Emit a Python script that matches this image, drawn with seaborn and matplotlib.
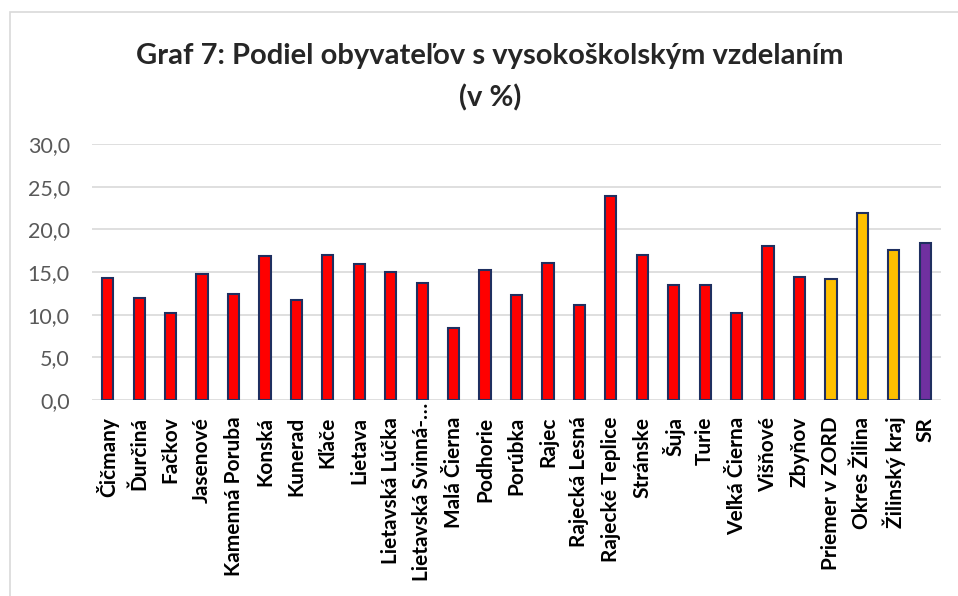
import matplotlib
matplotlib.use("Agg")
import matplotlib.pyplot as plt
import matplotlib.transforms as mtransforms
import seaborn as sns
import pandas as pd

# data
obce = [
    "Čičmany", "Ďurčiná", "Fačkov", "Jasenové", "Kamenná Poruba", "Konská",
    "Kunerad", "Kľače", "Lietava", "Lietavská Lúčka", "Lietavská Svinná-…",
    "Malá Čierna", "Podhorie", "Porúbka", "Rajec", "Rajecká Lesná",
    "Rajecké Teplice", "Stránske", "Šuja", "Turie", "Veľká Čierna", "Višňové",
    "Zbyňov", "Priemer v ZORD", "Okres Žilina", "Žilinský kraj", "SR",
]
podiel = [
    14.3, 11.9, 10.2, 14.8, 12.4, 16.9, 11.7, 17.0, 15.9, 15.0, 13.7,
    8.4, 15.2, 12.3, 16.0, 11.1, 23.9, 17.0, 13.5, 13.5, 10.2, 18.1,
    14.4, 14.2, 21.9, 17.6, 18.4,
]
skupina = ["obec"] * 23 + ["priemer", "priemer", "priemer", "SR"]
farby = {"obec": "#FF0000", "priemer": "#FFC000", "SR": "#7030A0"}

df = pd.DataFrame({"obec": obce, "podiel": podiel, "skupina": skupina})

sns.set_theme(style="white")
plt.rcParams["font.family"] = ["Lato", "DejaVu Sans"]

fig = plt.figure(figsize=(9.58, 5.96), dpi=100)
ax = fig.add_axes([92 / 958, 1 - 400 / 596, (941 - 92) / 958, 256 / 596])

sns.barplot(
    data=df, x="obec", y="podiel", hue="skupina", palette=farby,
    dodge=False, legend=False, width=0.36, saturation=1,
    edgecolor="#1F2F60", linewidth=1.5, ax=ax,
)

ax.set_ylim(0, 30)
ax.set_yticks(range(0, 31, 5))
ax.set_yticklabels([f"{v},0" for v in range(0, 31, 5)], color="#595959", fontsize=15.5)
ax.set_xlim(-0.5, len(obce) - 0.5)
ax.tick_params(axis="y", length=0, pad=16)
ax.tick_params(axis="x", length=0, pad=12)
ax.set_xticks(range(len(obce)))
ax.set_xticklabels(obce, rotation=90, fontweight="bold", fontsize=15, color="black")
ax.set_xlabel("")
ax.set_ylabel("")
ax.grid(axis="y", color="#D9D9D9", linewidth=1.2)
ax.set_axisbelow(True)
for s in ax.spines.values():
    s.set_visible(False)

# the long label starts right at the axis, like in the original
dlhy = ax.get_xticklabels()[obce.index("Lietavská Svinná-…")]
dlhy.set_transform(dlhy.get_transform()
                   + mtransforms.ScaledTranslation(0, 14 / 100, fig.dpi_scale_trans))

# frame of the chart area (top/left edge like the original)
fig.add_artist(plt.Rectangle((10 / 958, -0.01), 1.0, 1 - 12 / 596 + 0.01,
                             transform=fig.transFigure, fill=False,
                             edgecolor="#D9D9D9", linewidth=1.2))

fig.text(490 / 958, 1 - 56 / 596, "Graf 7: Podiel obyvateľov s vysokoškolským vzdelaním",
         ha="center", va="center", fontsize=21, fontweight="bold")
fig.text(490 / 958, 1 - 98 / 596, "(v %)", ha="center", va="center",
         fontsize=21, fontweight="bold")

fig.savefig("out.png", dpi=100)
